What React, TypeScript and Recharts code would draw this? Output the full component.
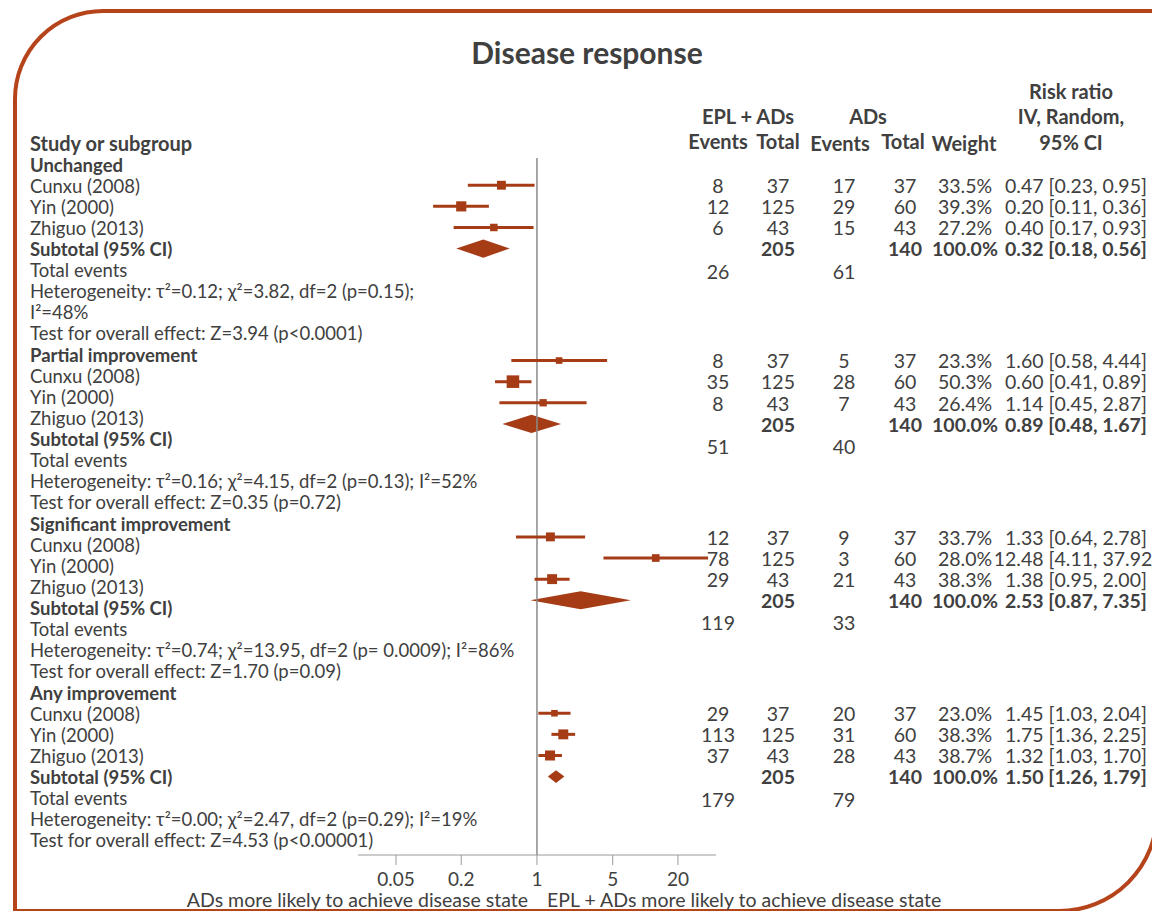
import React from 'react';
import { ComposedChart, Scatter, ErrorBar, Area, XAxis, YAxis, ReferenceLine } from 'recharts';

// Subgroups and studies
const groupNames = ['Unchanged', 'Partial improvement', 'Significant improvement', 'Any improvement'];
const studyNames = ['Cunxu (2008)', 'Yin (2000)', 'Zhiguo (2013)'];

// EPL + ADs arm
const eplEvents = [[8, 12, 6], [8, 35, 8], [12, 78, 29], [29, 113, 37]];
const eplTotals = [37, 125, 43];
const eplSubtotal = 205;
const eplTotalEvents = [26, 51, 119, 179];

// ADs arm
const adEvents = [[17, 29, 15], [5, 28, 7], [9, 3, 21], [20, 31, 28]];
const adTotals = [37, 60, 43];
const adSubtotal = 140;
const adTotalEvents = [61, 40, 33, 79];

// Weights and risk ratios (IV, random, 95% CI)
const weights = [[33.5, 39.3, 27.2], [23.3, 50.3, 26.4], [33.7, 28.0, 38.3], [23.0, 38.3, 38.7]];
const riskRatios = [[0.47, 0.2, 0.4], [1.6, 0.6, 1.14], [1.33, 12.48, 1.38], [1.45, 1.75, 1.32]];
const ciLower = [[0.23, 0.11, 0.17], [0.58, 0.41, 0.45], [0.64, 4.11, 0.95], [1.03, 1.36, 1.03]];
const ciUpper = [[0.95, 0.36, 0.93], [4.44, 0.89, 2.87], [2.78, 37.92, 2.0], [2.04, 2.25, 1.7]];
const subtotalRR = [0.32, 0.89, 2.53, 1.5];
const subtotalLower = [0.18, 0.48, 0.87, 1.26];
const subtotalUpper = [0.56, 1.67, 7.35, 1.79];

const heterogeneityLines = [
  ['Heterogeneity: τ²=0.12; χ²=3.82, df=2 (p=0.15);', 'I²=48%'],
  ['Heterogeneity: τ²=0.16; χ²=4.15, df=2 (p=0.13); I²=52%'],
  ['Heterogeneity: τ²=0.74; χ²=13.95, df=2 (p= 0.0009); I²=86%'],
  ['Heterogeneity: τ²=0.00; χ²=2.47, df=2 (p=0.29); I²=19%'],
];
const overallEffect = [
  'Test for overall effect: Z=3.94 (p<0.0001)',
  'Test for overall effect: Z=0.35 (p=0.72)',
  'Test for overall effect: Z=1.70 (p=0.09)',
  'Test for overall effect: Z=4.53 (p<0.00001)',
];

const xTicks = [0.05, 0.2, 1, 5, 20];

// layout
const W = 1152;
const H = 911;
const FONT = 'Lato, "Open Sans", sans-serif';
const TEXT = '#404040';
const MARK = '#a63c16';
const FRAME = '#b5441b';
const FS_LEFT = 18.5;
const FS_TABLE = 19.5;
const FS_HEAD = 20;

const ROW0 = 143;
const ROW_H = 21.12;
const rowY = (r: number) => ROW0 + r * ROW_H;
const PLOT_LEFT = 358;
const PLOT_RIGHT = 716;
const PLOT_TOP = 158;
const PLOT_BOTTOM = 855;
const X_AXIS_H = 30;

const labelStart = [1, 10, 18, 26];
const tableStart = [2, 10.3, 18.65, 27];

const COL = { eplEv: 718, eplTot: 778, adEv: 844, adTot: 905, weight: 965, rr: 1076 };

const fmtRR = (rr: number, lo: number, hi: number) =>
  `${rr.toFixed(2)} [${lo.toFixed(2)}, ${hi.toFixed(2)}]`;

// study points with asymmetric CI as deltas for ErrorBar
const studyPoints = groupNames.flatMap((_, g) =>
  studyNames.map((_, k) => ({
    x: riskRatios[g][k],
    row: tableStart[g] + k,
    err: [riskRatios[g][k] - ciLower[g][k], ciUpper[g][k] - riskRatios[g][k]],
    weight: weights[g][k],
  }))
);

const diamonds = groupNames.map((_, g) => {
  const r = tableStart[g] + 3;
  const half = Math.min(0.43, 2 * Math.log10(subtotalUpper[g] / subtotalLower[g]));
  return [
    { x: subtotalLower[g], band: [r, r] },
    { x: subtotalRR[g], band: [r - half, r + half] },
    { x: subtotalUpper[g], band: [r, r] },
  ];
});

const SquareShape = (props: any) => {
  const { cx, cy, payload } = props;
  const s = 0.22 * payload.weight + 1.5;
  return <rect x={cx - s / 2} y={cy - s / 2} width={s} height={s} fill={MARK} />;
};

const T = ({ x, r, children, bold, anchor = 'middle', size = FS_TABLE, y }: any) => (
  <text
    x={x}
    y={(y ?? rowY(r)) + size * 0.4}
    textAnchor={anchor}
    fontWeight={bold ? 700 : 400}
    fontSize={size}
    fill={TEXT}
    fontFamily={FONT}
  >
    {children}
  </text>
);

function TableText() {
  const items: React.ReactNode[] = [];
  groupNames.forEach((name, g) => {
    const s = labelStart[g];
    const L = (key: string, r: number, text: string, bold = false) =>
      items.push(
        <T key={key} x={30} r={r} anchor="start" bold={bold} size={FS_LEFT}>
          {text}
        </T>
      );
    L(`gn${g}`, s, name, true);
    studyNames.forEach((sn, k) => L(`sn${g}${k}`, s + 1 + k, sn));
    L(`st${g}`, s + 4, 'Subtotal (95% CI)', true);
    L(`te${g}`, s + 5, 'Total events');
    heterogeneityLines[g].forEach((line, i) => L(`h${g}${i}`, s + 6 + i, line));
    L(`oe${g}`, s + 6 + heterogeneityLines[g].length, overallEffect[g]);

    const t = tableStart[g];
    studyNames.forEach((_, k) => {
      const r = t + k;
      items.push(<T key={`a${g}${k}`} x={COL.eplEv} r={r}>{eplEvents[g][k]}</T>);
      items.push(<T key={`b${g}${k}`} x={COL.eplTot} r={r}>{eplTotals[k]}</T>);
      items.push(<T key={`c${g}${k}`} x={COL.adEv} r={r}>{adEvents[g][k]}</T>);
      items.push(<T key={`d${g}${k}`} x={COL.adTot} r={r}>{adTotals[k]}</T>);
      items.push(<T key={`e${g}${k}`} x={COL.weight} r={r}>{weights[g][k].toFixed(1)}%</T>);
      items.push(
        <T key={`f${g}${k}`} x={COL.rr} r={r}>
          {fmtRR(riskRatios[g][k], ciLower[g][k], ciUpper[g][k])}
        </T>
      );
    });
    const rs = t + 3;
    items.push(<T key={`sb${g}`} x={COL.eplTot} r={rs} bold>{eplSubtotal}</T>);
    items.push(<T key={`sd${g}`} x={COL.adTot} r={rs} bold>{adSubtotal}</T>);
    items.push(<T key={`se${g}`} x={COL.weight} r={rs} bold>100.0%</T>);
    items.push(
      <T key={`sf${g}`} x={COL.rr} r={rs} bold>
        {fmtRR(subtotalRR[g], subtotalLower[g], subtotalUpper[g])}
      </T>
    );
    items.push(<T key={`ta${g}`} x={COL.eplEv} r={t + 4.05}>{eplTotalEvents[g]}</T>);
    items.push(<T key={`tc${g}`} x={COL.adEv} r={t + 4.05}>{adTotalEvents[g]}</T>);
  });

  return (
    <svg
      width={W}
      height={H}
      style={{ position: 'absolute', left: 0, top: 0, pointerEvents: 'none' }}
    >
      <T x={587} y={52} size={30} bold>Disease response</T>
      <T x={30} r={0} anchor="start" bold size={FS_HEAD}>Study or subgroup</T>
      <T x={748} y={116} bold size={FS_HEAD}>EPL + ADs</T>
      <T x={868} y={116} bold size={FS_HEAD}>ADs</T>
      <T x={COL.eplEv} y={141} bold size={FS_HEAD}>Events</T>
      <T x={COL.eplTot} y={141} bold size={FS_HEAD}>Total</T>
      <T x={840} y={143} bold size={FS_HEAD}>Events</T>
      <T x={903} y={141} bold size={FS_HEAD}>Total</T>
      <T x={964} y={143} bold size={FS_HEAD}>Weight</T>
      <T x={1071} y={91} bold size={FS_HEAD}>Risk ratio</T>
      <T x={1071} y={116} bold size={FS_HEAD}>IV, Random,</T>
      <T x={1071} y={142} bold size={FS_HEAD}>95% CI</T>
      {items}
      <T x={528} y={899} anchor="end">ADs more likely to achieve disease state</T>
      <T x={547} y={899} anchor="start">EPL + ADs more likely to achieve disease state</T>
    </svg>
  );
}

export default function App() {
  return (
    <div
      style={{
        position: 'fixed',
        left: 0,
        top: 0,
        width: W,
        height: H,
        overflow: 'hidden',
        background: '#fff',
        fontFamily: FONT,
      }}
    >
      <div
        style={{
          position: 'absolute',
          left: 13,
          top: 9,
          width: 1146,
          height: 904,
          boxSizing: 'border-box',
          border: `4px solid ${FRAME}`,
          borderTopLeftRadius: 90,
          borderBottomRightRadius: 100,
        }}
      />
      <div style={{ position: 'absolute', left: 0, top: 0 }}>
        <ComposedChart
          width={W}
          height={H}
          margin={{
            top: PLOT_TOP,
            left: PLOT_LEFT,
            right: W - PLOT_RIGHT,
            bottom: H - PLOT_BOTTOM - X_AXIS_H,
          }}
        >
          <XAxis
            dataKey="x"
            type="number"
            scale="log"
            domain={[0.0223, 44.9]}
            allowDataOverflow
            ticks={xTicks}
            interval={0}
            tickFormatter={(v: number) => String(v)}
            height={X_AXIS_H}
            tickSize={10}
            tickMargin={8}
            axisLine={{ stroke: '#9a9a9a' }}
            tickLine={{ stroke: '#9a9a9a' }}
            tick={{ fill: TEXT, fontSize: 19, fontFamily: FONT }}
          />
          <YAxis
            dataKey="row"
            type="number"
            hide
            reversed
            width={0}
            domain={[(PLOT_TOP - ROW0) / ROW_H, (PLOT_BOTTOM - ROW0) / ROW_H]}
            allowDataOverflow
          />
          <ReferenceLine x={1} stroke="#8a8a8a" strokeWidth={1.5} />
          {diamonds.map((d, g) => (
            <Area
              key={`dm${g}`}
              data={d}
              dataKey="band"
              type="linear"
              stroke="none"
              fill={MARK}
              fillOpacity={1}
              dot={false}
              activeDot={false}
              isAnimationActive={false}
            />
          ))}
          <Scatter data={studyPoints} shape={SquareShape} isAnimationActive={false}>
            <ErrorBar
              dataKey="err"
              direction="x"
              width={0}
              stroke={MARK}
              strokeWidth={3}
              isAnimationActive={false}
            />
          </Scatter>
        </ComposedChart>
      </div>
      <TableText />
    </div>
  );
}
